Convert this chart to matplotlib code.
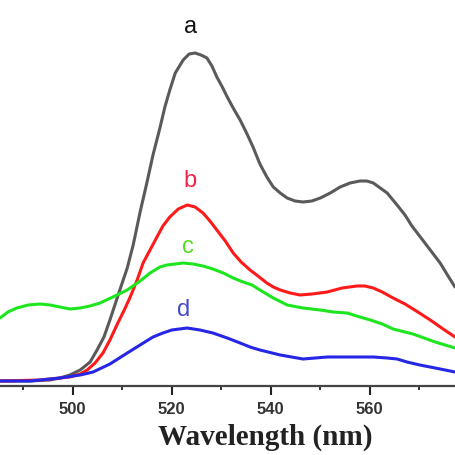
import numpy as np, matplotlib; matplotlib.use("Agg"); import matplotlib.pyplot as plt
from matplotlib.ticker import MultipleLocator
# emission spectra (intensity in arbitrary units)
wl_a=[485.3,491.4,495.4,497.4,499.4,501.5,503.5,504.9,506.3,507.5,508.5,509.5,511.0,512.2,513.6,515.0,516.2,
      517.6,518.6,519.6,520.7,522.3,523.5,524.7,525.9,527.1,528.1,529.1,530.2,531.2,532.4,533.8,535.2,536.4,
      537.8,539.2,540.5,541.9,543.3,544.9,546.5,548.3,550.0,552.0,554.0,556.0,558.0,559.4,560.7,562.1,563.5,
      565.5,567.1,568.5,570.2,572.2,574.2,575.8,577.2]
I_a=[5,5,6,8,11,16,24,36,49,66,81,96,118,141,174,204,231,258,279,296,313,326,332,333,331,328,320,309,299,289,
     278,266,252,239,222,209,199,193,188,185,184,185,188,193,199,203,205,205,203,198,193,181,171,160,149,136,
     123,110,99]
wl_b=[485.3,493.4,497.4,499.4,501.5,502.9,504.5,506.1,507.5,509.1,510.4,511.6,513.0,514.2,515.6,517.0,518.2,
      519.6,521.3,523.1,524.7,526.3,527.7,529.1,530.8,532.4,534.0,535.8,537.4,539.2,540.5,541.9,543.9,545.9,
      548.3,551.4,554.4,557.4,559.0,560.7,562.5,564.7,567.1,569.7,572.2,574.8,577.2]
I_b=[5,6,8,9,12,16,23,33,46,63,76,89,106,123,136,149,160,169,177,181,179,173,165,156,145,133,124,116,110,103,
     99,96,93,91,92,94,98,100,100,98,94,88,82,74,66,57,49]
wl_c=[485.3,486.9,488.7,491.0,493.4,495.4,497.4,499.4,501.5,503.5,505.5,508.1,511.0,513.6,515.6,517.6,519.0,
      520.7,522.3,524.3,526.3,528.3,530.4,532.4,534.4,536.2,537.8,540.5,543.3,546.5,550.0,552.6,555.4,558.0,
      560.1,562.5,564.7,568.7,573.2,577.2]
I_c=[68,74,78,81,82,81,79,77,78,80,83,89,96,105,113,119,121,122,123,122,120,117,113,108,104,101,96,88,81,78,
     76,74,73,69,66,62,57,52,44,38]
wl_d=[485.3,491.4,497.4,501.5,504.1,507.5,511.0,513.6,516.2,518.2,520.0,523.1,525.7,528.3,531.2,533.8,535.8,
      537.8,541.9,546.5,551.4,555.0,558.0,560.7,563.5,565.5,567.5,570.1,573.2,577.2]
I_d=[5,5,8,11,14,22,33,41,49,53,56,58,56,53,48,43,39,36,31,27,29,29,29,29,28,27,24,21,18,14]
series=[(wl_a,I_a,"#5a5a5a"),(wl_b,I_b,"#ff1a1a"),(wl_c,I_c,"#1ee61e"),(wl_d,I_d,"#2626e6")]
labels=[("a",523.7,359,"#111111"),("b",523.7,205,"#ee2244"),("c",523.3,139,"#55dd22"),("d",522.3,76,"#4848d0")]
xticks=[500,520,540,560]

fig=plt.figure(figsize=(4.55,4.55),dpi=100)
ax=fig.add_axes([0,69/455,1,386/455])
for x,y,c in series: ax.plot(x,y,color=c,lw=2.2,solid_joinstyle="round",solid_capstyle="round")
for t,x,y,c in labels: ax.text(x,y,t,color=c,fontsize=17,ha="center",va="center",family="Liberation Sans")
ax.set_xlim(485.3,577.2); ax.set_ylim(0,386)
for s in ["left","right","top"]: ax.spines[s].set_visible(False)
ax.spines["bottom"].set_color("#444444"); ax.spines["bottom"].set_linewidth(1.6)
ax.set_yticks([])
ax.set_xticks(xticks); ax.xaxis.set_minor_locator(MultipleLocator(10))
ax.tick_params(axis="x",which="major",direction="out",length=6.5,width=1.5,color="#222222",pad=5)
ax.tick_params(axis="x",which="minor",direction="out",length=3,width=1.3,color="#222222")
for lb in ax.get_xticklabels(): lb.set_fontsize(12); lb.set_family("Liberation Sans"); lb.set_weight("bold"); lb.set_color("#333333")
ax.set_xlabel("Wavelength (nm)",fontsize=21,fontweight="bold",family="Liberation Serif",color="#222222",va="center")
ax.xaxis.set_label_coords(265/455,-51/386)
fig.savefig("out.png",dpi=100)
